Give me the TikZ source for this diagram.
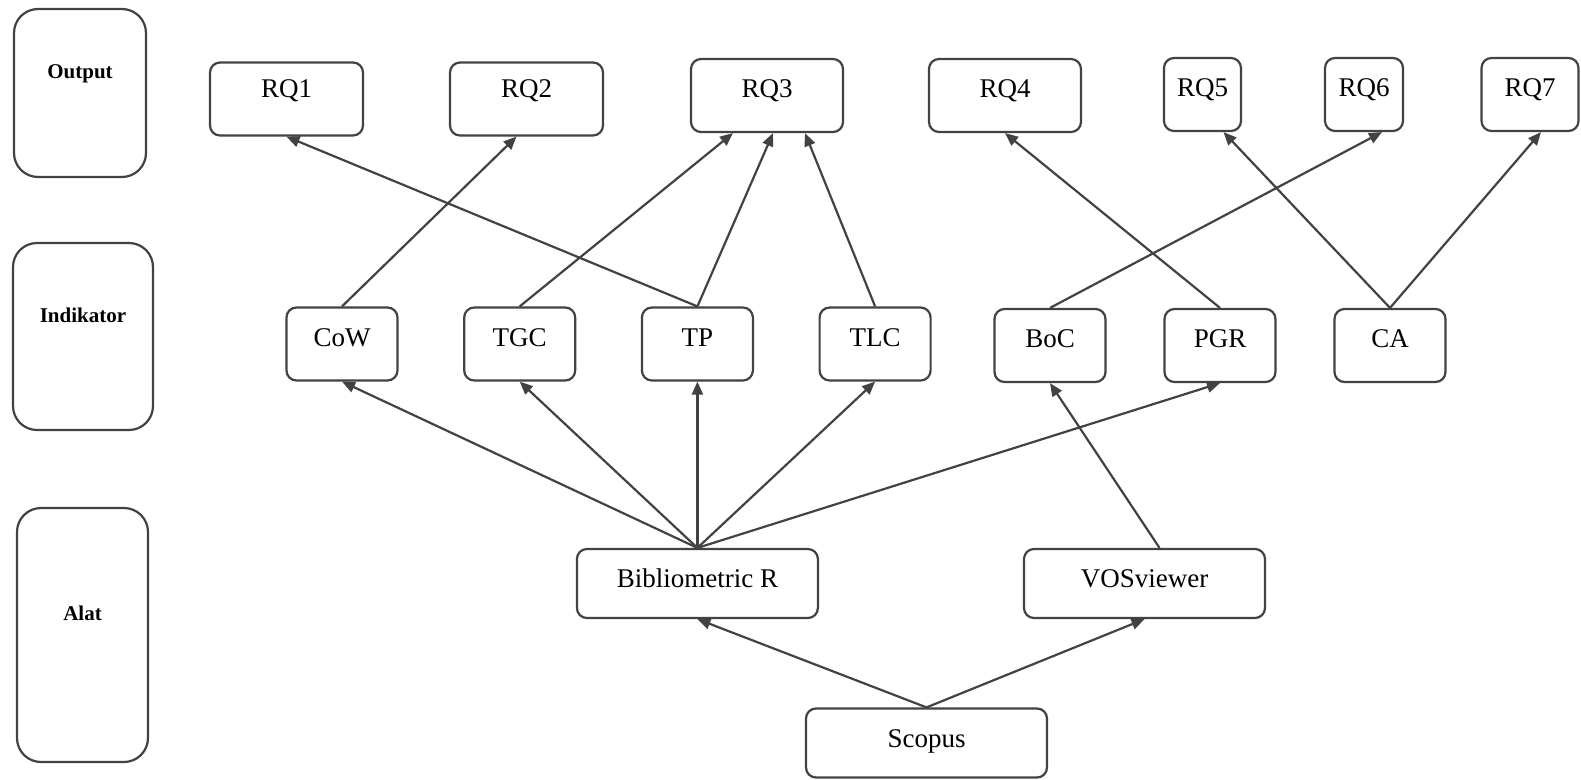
\documentclass[tikz,border=0pt]{standalone}
\usepackage{fontspec}
\setmainfont{Liberation Serif}
\usetikzlibrary{positioning,arrows.meta}
\definecolor{linegray}{HTML}{424242}
\begin{document}
\begin{tikzpicture}[x=1pt, y=-1pt, node distance=177.7pt,
  box/.style = {draw=linegray, line width=2.2pt, rounded corners=10pt, inner sep=0pt, minimum height=73pt, font=\fontsize{27}{30}\selectfont, text height=18pt, text depth=14pt},
  rqlow/.style = {text depth=21pt},
  ind/.style = {minimum width=111pt},
  tool/.style = {minimum width=241pt, minimum height=69pt, text depth=10pt},
  side/.style = {draw=linegray, line width=2.2pt, rounded corners=24pt, inner sep=0pt, font=\fontsize{21}{24}\selectfont\bfseries, text height=15pt, text depth=44pt},
  arr/.style = {draw=linegray, line width=2.2pt, -{Triangle[length=13pt, width=11pt]}}]
\useasboundingbox (0,0) rectangle (1581,779);

% left column
\node[side, minimum width=132pt, minimum height=168pt] (out) at (80,93) {Output};
\node[side, minimum width=140pt, minimum height=187pt] (indik) at (83,336.5) {Indikator};
\node[side, minimum width=131pt, minimum height=254pt] (alat) at (82.5,635) {Alat};

% output row
\node[box, rqlow, minimum width=153pt] (rq1) at (286.5,99) {RQ1};
\node[box, rqlow, minimum width=153pt] (rq2) at (526.5,99) {RQ2};
\node[box, minimum width=152pt] (rq3) at (767,95.5) {RQ3};
\node[box, minimum width=152pt] (rq4) at (1005,95.5) {RQ4};
\node[box, minimum width=77pt] (rq5) at (1202.5,94.5) {RQ5};
\node[box, minimum width=78pt] (rq6) at (1364,94.5) {RQ6};
\node[box, minimum width=97pt] (rq7) at (1530,94.5) {RQ7};

% indicator row
\node[box, ind] (cow) at (342,344) {CoW};
\node[box, ind] (tgc) [right of=cow] {TGC};
\node[box, ind] (tp) [right of=tgc] {TP};
\node[box, ind] (tlc) [right of=tp] {TLC};
\node[box, ind] (boc) at (1050,345.5) {BoC};
\node[box, ind] (pgr) [node distance=170pt, right of=boc] {PGR};
\node[box, ind] (ca) [node distance=170pt, right of=pgr] {CA};

% tools
\node[box, tool] (bib) at (697.4,583.5) {Bibliometric R};
\node[box, tool] (vos) at (1144.5,583.5) {VOSviewer};
\node[box, tool] (scopus) at (926.5,743) {Scopus};

\draw[arr] (tp.north) -- (rq1.south);
\draw[arr] (cow.north) -- ([xshift=-10pt]rq2.south);
\draw[arr] (tgc.north) -- ([xshift=-34pt]rq3.south);
\draw[arr] (tp.north) -- ([xshift=6pt]rq3.south);
\draw[arr] (tlc.north) -- ([xshift=38pt]rq3.south);
\draw[arr] (pgr.north) -- (rq4.south);
\draw[arr] (boc.north) -- ([xshift=18pt]rq6.south);
\draw[arr] (ca.north) -- ([xshift=21pt]rq5.south);
\draw[arr] (ca.north) -- ([xshift=11pt]rq7.south);

\foreach \t in {cow,tgc,tp,tlc,pgr}
  \draw[arr] (bib.north) -- (\t.south);
\draw[arr] ([xshift=15pt]vos.north) -- (boc.south);
\draw[arr] (scopus.north) -- (bib.south);
\draw[arr] (scopus.north) -- (vos.south);
\end{tikzpicture}
\end{document}
